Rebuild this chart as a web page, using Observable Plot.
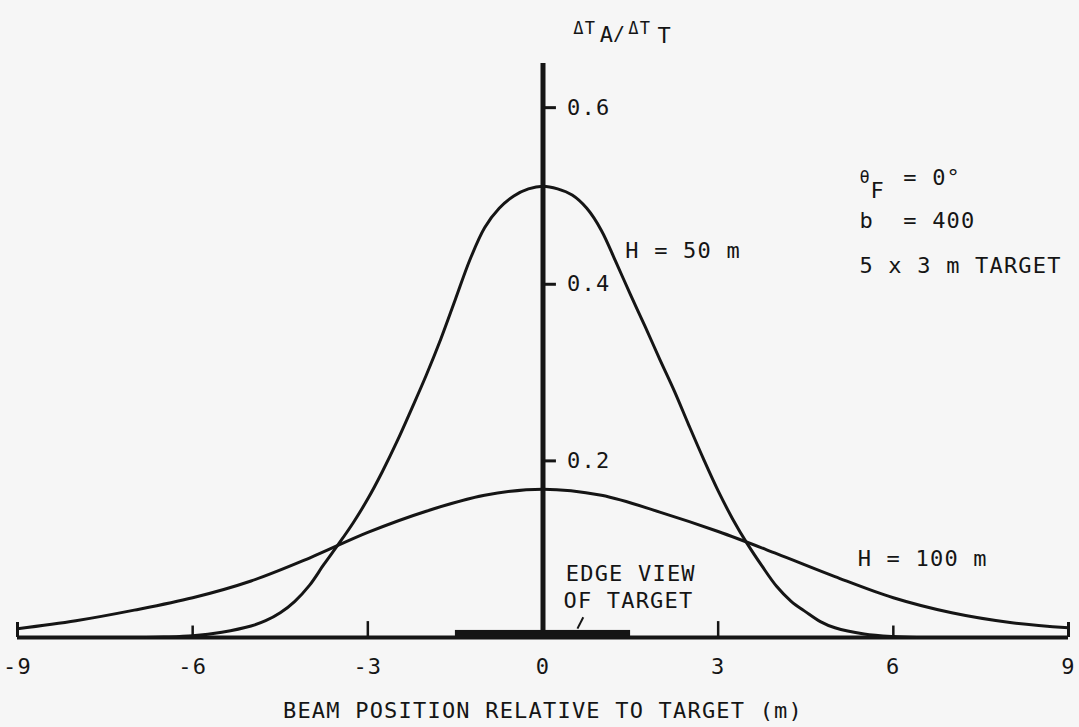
<!DOCTYPE html>
<html>
<head>
<meta charset="utf-8">
<script src="https://cdn.jsdelivr.net/npm/d3@7"></script>
<script src="https://cdn.jsdelivr.net/npm/@observablehq/plot@0.6"></script>
<style>
  html, body { margin: 0; padding: 0; background: #f6f6f6; }
  #chart svg text { letter-spacing: 1.2px; }
</style>
</head>
<body>
<div id="chart"></div>
<script>
// Beam position (m) and ΔTA/ΔTT for the two heights
const positions50 = [-6.8, -6.5, -6.0, -5.5, -5.0, -4.75, -4.5, -4.25, -4.0, -3.75, -3.5, -3.25, -3.0, -2.75, -2.5, -2.25, -2.0, -1.75, -1.5, -1.25, -1.0, -0.75, -0.5, -0.25, 0,
  0.25, 0.5, 0.75, 1.0, 1.25, 1.5, 1.75, 2.0, 2.25, 2.5, 2.75, 3.0, 3.25, 3.5, 3.75, 4.0, 4.25, 4.5, 4.75, 5.0, 5.5, 6.0, 6.4];
const ratio50 = [0, 0.0005, 0.002, 0.006, 0.013, 0.019, 0.028, 0.041, 0.059, 0.083, 0.106, 0.130, 0.157, 0.188, 0.222, 0.259, 0.297, 0.338, 0.383, 0.428, 0.464, 0.486, 0.500, 0.508, 0.511,
  0.508, 0.501, 0.486, 0.461, 0.425, 0.388, 0.352, 0.315, 0.279, 0.240, 0.202, 0.166, 0.134, 0.106, 0.081, 0.058, 0.041, 0.029, 0.018, 0.011, 0.004, 0.001, 0];

const positions100 = [-9, -8, -7, -6, -5, -4, -3, -2, -1, 0, 1, 2, 3, 4, 5, 6, 7, 8, 9];
const ratio100 = [0.010, 0.019, 0.031, 0.045, 0.064, 0.090, 0.119, 0.143, 0.161, 0.168, 0.161, 0.142, 0.120, 0.095, 0.069, 0.045, 0.028, 0.017, 0.011];

const xTickValues = [-9, -6, -3, 0, 3, 6, 9];
const xTickMarks = [-6, -3, 3, 6];
const yTickValues = [0.2, 0.4, 0.6];
const targetEdges = [-1.5, 1.5];
const curveEnds = [-9, 9];

const h50 = positions50.map((x, i) => ({x, y: ratio50[i]}));
const h100 = positions100.map((x, i) => ({x, y: ratio100[i]}));

const ink = "#151515";

const chart = Plot.plot({
  width: 1079,
  height: 727,
  marginLeft: 17,
  marginRight: 11,
  marginTop: 63,
  marginBottom: 90,
  x: {domain: [-9, 9], label: null},
  y: {domain: [0, 0.65], axis: null, label: null},
  style: {background: "transparent", fontFamily: "'DejaVu Sans Mono', monospace", fontSize: "22px", color: ink},
  marks: [
    // baseline and vertical axis
    Plot.ruleY([0], {x1: -9, x2: 9, stroke: ink, strokeWidth: 4}),
    Plot.ruleX([0], {y1: 0, y2: 0.65, stroke: ink, strokeWidth: 5}),
    // x tick marks
    Plot.ruleX(xTickMarks, {y1: 0, y2: d => Math.abs(d) === 3 ? 0.018 : 0.013, stroke: ink, strokeWidth: 2.5}),
    // end markers of the H = 100 m curve
    Plot.ruleX(curveEnds, {y1: 0, y2: 0.017, stroke: ink, strokeWidth: 3}),
    // target edge view
    Plot.rect([targetEdges], {x1: d => d[0], x2: d => d[1], y1: 0, y2: 0.008, fill: ink}),
    Plot.link([0], {x1: 0.59, y1: 0.010, x2: 0.69, y2: 0.023, stroke: ink, strokeWidth: 2}),
    // y ticks and labels
    Plot.ruleY(yTickValues, {x1: 0, x2: 0.23, stroke: ink, strokeWidth: 3}),
    Plot.text(yTickValues, {x: 0, y: d => d, text: d => d.toFixed(1), dx: 24, textAnchor: "start"}),
    // x axis
    Plot.axisX({ticks: xTickValues, tickSize: 0, tickPadding: 21, tickFormat: d => String(d), label: null}),
    Plot.text(["BEAM POSITION RELATIVE TO TARGET (m)"], {x: 0, frameAnchor: "bottom", dy: 80, text: d => d}),
    // curves
    Plot.line(h50, {x: "x", y: "y", curve: "catmull-rom", stroke: ink, strokeWidth: 3}),
    Plot.line(h100, {x: "x", y: "y", curve: "catmull-rom", stroke: ink, strokeWidth: 3}),
    // curve labels
    Plot.text(["H = 50 m"], {x: 1.41, y: 0.438, text: d => d, textAnchor: "start"}),
    Plot.text(["H = 100 m"], {x: 5.39, y: 0.089, text: d => d, textAnchor: "start"}),
    Plot.text(["EDGE VIEW"], {x: 0.39, y: 0.072, text: d => d, textAnchor: "start"}),
    Plot.text(["OF TARGET"], {x: 0.35, y: 0.041, text: d => d, textAnchor: "start"}),
    // parameters
    Plot.text(["θ"], {x: 5.42, y: 0.521, text: d => d, textAnchor: "start", fontSize: 17}),
    Plot.text(["F"], {x: 5.61, y: 0.506, text: d => d, textAnchor: "start"}),
    Plot.text(["= 0°"], {x: 6.17, y: 0.520, text: d => d, textAnchor: "start"}),
    Plot.text(["b"], {x: 5.42, y: 0.472, text: d => d, textAnchor: "start"}),
    Plot.text(["= 400"], {x: 6.17, y: 0.472, text: d => d, textAnchor: "start"}),
    Plot.text(["5 x 3 m TARGET"], {x: 5.42, y: 0.421, text: d => d, textAnchor: "start"}),
    // y axis title ΔT_A / ΔT_T
    Plot.text(["ΔT"], {x: 0.52, y: 0.690, text: d => d, textAnchor: "start", fontSize: 17}),
    Plot.text(["A"], {x: 0.97, y: 0.682, text: d => d, textAnchor: "start"}),
    Plot.text(["/"], {x: 1.2, y: 0.684, text: d => d, textAnchor: "start", fontSize: 20}),
    Plot.text(["ΔT"], {x: 1.46, y: 0.690, text: d => d, textAnchor: "start", fontSize: 17}),
    Plot.text(["T"], {x: 1.96, y: 0.681, text: d => d, textAnchor: "start"})
  ]
});

document.getElementById("chart").append(chart);
</script>
</body>
</html>
